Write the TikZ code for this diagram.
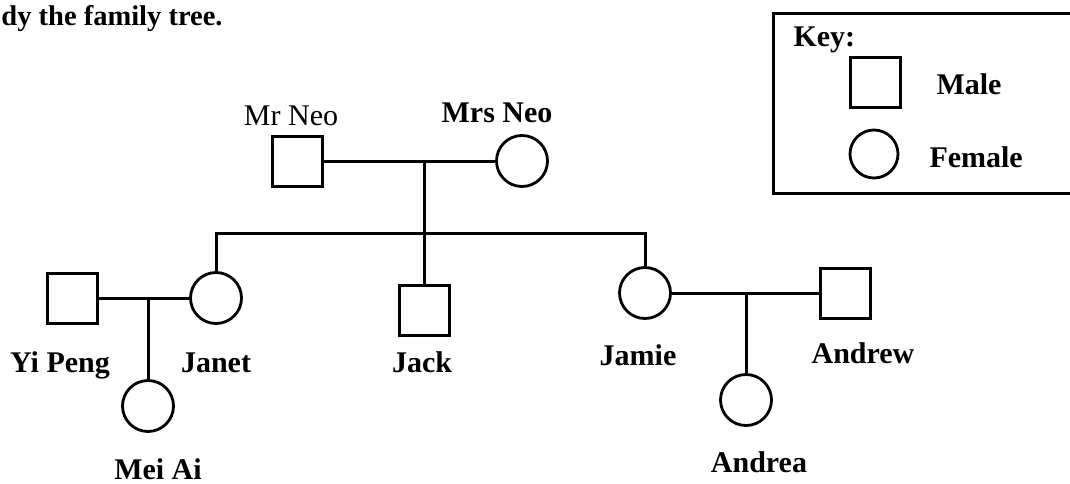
\documentclass[tikz,border=0pt]{standalone}
\usepackage{fontspec}
\setmainfont{Liberation Serif}
\begin{document}
\begin{tikzpicture}[x=1pt,y=-1pt, line width=3pt,
  male/.style={draw, rectangle, minimum size=50pt, inner sep=0pt, line width=3pt},
  female/.style={draw, circle, minimum size=51pt, inner sep=0pt, line width=2.8pt},
  lbl/.style={font=\fontsize{30}{30}\selectfont\bfseries, anchor=base, inner sep=0pt},
  lblr/.style={font=\fontsize{30}{30}\selectfont, anchor=base, inner sep=0pt}]
\useasboundingbox (0,0) rectangle (1070,484);

% title
\node[lbl, font=\fontsize{28.5}{30}\selectfont\bfseries, anchor=base west] (title) at (0,26) {dy the family tree.};

% key
\draw (1078,14) -- (773,14) -- (773,193) -- (1078,193);
\node[lbl, anchor=base west] (keyt) at (792,47) {Key:};
\node[male] (keym) at (875,83) {};
\node[female, minimum size=48pt] (keyf) at (874,154) {};
\node[lbl, anchor=base west] (keymt) at (935,95) {Male};
\node[lbl, anchor=base west] (keyft) at (928,167) {Female};

% generation 1
\node[male] (mrneo) at (297,161) {};
\node[female] (mrsneo) at (522,161) {};
\coordinate (m1) at (424,161);
\node[lblr] (tmrneo) at (291,125) {Mr Neo};
\node[lbl] (tmrsneo) at (497,122) {Mrs Neo};

% generation 2
\coordinate (sm) at (424,233);
\node[female] (janet) at (216,298) {};
\node[male] (jack) at (424,310) {};
\node[female] (jamie) at (645,293) {};
\node[male] (yipeng) at (72,298) {};
\node[male] (andrew) at (845,293) {};

% generation 3
\coordinate (m2) at (148,298);
\coordinate (m3) at (746,293);
\node[female] (meiai) at (148,406) {};
\node[female] (andrea) at (746,400) {};

% connectors
\draw (mrneo) -- (mrsneo);
\draw (m1) -- (jack.north);
\draw (janet.north) |- (sm) -| (jamie.north);
\draw (yipeng) -- (janet);
\draw (m2) -- (meiai.north);
\draw (jamie) -- (andrew);
\draw (m3) -- (andrea.north);

% labels
\node[lbl] (tyipeng) at (60,372) {Yi Peng};
\node[lbl] (tjanet) at (216,372) {Janet};
\node[lbl] (tjack) at (422,372) {Jack};
\node[lbl] (tjamie) at (638,365) {Jamie};
\node[lbl] (tandrew) at (863,363) {Andrew};
\node[lbl] (tmeiai) at (158,479) {Mei Ai};
\node[lbl] (tandrea) at (759,472) {Andrea};
\end{tikzpicture}
\end{document}
